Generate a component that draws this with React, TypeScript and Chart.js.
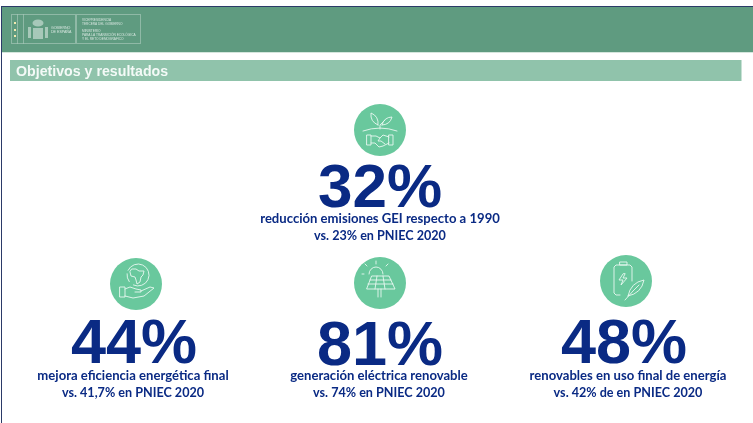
import React, { useEffect, useRef } from "react";
import { Chart, registerables } from "chart.js";

Chart.register(...registerables);

const PAGE_WIDTH = 753;
const PAGE_HEIGHT = 423;

const SLIDE_TITLE = "Objetivos y resultados";
const TARGET_VALUES = [32, 44, 81, 48];
const TARGET_CAPTIONS = [
  "reducción emisiones GEI respecto a 1990",
  "mejora eficiencia energética final",
  "generación eléctrica renovable",
  "renovables en uso final de energía",
];
const PREVIOUS_PLAN = [
  "vs. 23% en PNIEC 2020",
  "vs. 41,7% en PNIEC 2020",
  "vs. 74% en PNIEC 2020",
  "vs. 42% de en PNIEC 2020",
];
const ICON_NAMES = ["handshake", "globe", "solar", "battery"];

// Layout of the four tiles, in page pixels.
const BADGE_X = [380, 136, 380, 626];
const BADGE_Y = [130, 284, 283, 281];
const VALUE_X = [380, 134, 380, 624];
const VALUE_BASELINE = [207, 363, 365, 363];
const CAPTION_X = [380, 133, 379, 628];
const CAPTION_BASELINE = [223, 380, 380, 380];

const NAVY = "#0a2a84";
const BADGE_GREEN = "#69c89d";
const HEADER_GREEN = "#5f9b80";
const TITLE_GREEN = "#90c3ab";
const ICON_LINE = "#e9f7f0";

type Ctx = CanvasRenderingContext2D;

function poly(ctx: Ctx, pts: number[][], close = false) {
  ctx.beginPath();
  pts.forEach(([x, y], i) => (i ? ctx.lineTo(x, y) : ctx.moveTo(x, y)));
  if (close) ctx.closePath();
  ctx.stroke();
}

function leaf(ctx: Ctx, x0: number, y0: number, x1: number, y1: number, bulge: number) {
  const mx = (x0 + x1) / 2;
  const my = (y0 + y1) / 2;
  const nx = -(y1 - y0);
  const ny = x1 - x0;
  ctx.beginPath();
  ctx.moveTo(x0, y0);
  ctx.quadraticCurveTo(mx + nx * bulge, my + ny * bulge, x1, y1);
  ctx.quadraticCurveTo(mx - nx * bulge, my - ny * bulge, x0, y0);
  ctx.stroke();
}

function handshakeIcon(ctx: Ctx) {
  leaf(ctx, -2, -5, -9, -17, 0.38);
  leaf(ctx, 2, -5, 12, -13, 0.38);
  poly(ctx, [[0, -1], [0, -5], [5, -10]]);
  ctx.beginPath();
  ctx.moveTo(-17, 1);
  ctx.quadraticCurveTo(0, -5, 17, 1);
  ctx.stroke();
  ctx.strokeRect(-13, 5, 4, 10);
  ctx.strokeRect(9, 5, 4, 10);
  poly(ctx, [[-9, 6], [-4, 6], [0, 8], [3, 5], [9, 7]]);
  poly(ctx, [[-9, 13], [-5, 13], [-1, 17], [3, 16], [9, 13]]);
  poly(ctx, [[0, 8], [-2, 11], [1, 11], [5, 14]]);
}

function globeIcon(ctx: Ctx) {
  ctx.beginPath();
  ctx.arc(2, -9, 11, -2.7, 2.0);
  ctx.stroke();
  ctx.beginPath();
  ctx.arc(2, -9, 11, 2.5, 3.25);
  ctx.stroke();
  poly(ctx, [[-4, -15], [0, -15], [3, -13], [8, -13], [7, -9], [5, -7], [4, -2], [1, 0], [0, -4], [-1, -7], [-5, -8], [-6, -12]], true);
  ctx.strokeRect(-16, 3, 5, 10);
  poly(ctx, [[-11, 5], [-6, 3], [0, 5], [5, 6], [5, 8], [-1, 8]]);
  poly(ctx, [[5, 7], [14, 3], [18, 4], [8, 12], [-3, 14], [-11, 12]]);
}

function solarIcon(ctx: Ctx) {
  ctx.beginPath();
  ctx.arc(-4, -9, 7, Math.PI, 0);
  ctx.stroke();
  poly(ctx, [[-4, -19], [-4, -22]]);
  poly(ctx, [[-13, -17], [-15, -19]]);
  poly(ctx, [[6, -17], [8, -19]]);
  poly(ctx, [[-16, -9], [-18, -9]]);
  poly(ctx, [[-8, -7], [9, -7], [15, 6], [-13, 6]], true);
  poly(ctx, [[-10, -3], [11, -3]]);
  poly(ctx, [[-12, 1], [13, 1]]);
  poly(ctx, [[-3, -7], [-5, 6]]);
  poly(ctx, [[3, -7], [5, 6]]);
  poly(ctx, [[-2, 6], [-2, 14]]);
  poly(ctx, [[1, 6], [1, 14]]);
}

function batteryIcon(ctx: Ctx) {
  poly(ctx, [[-6, 14], [-10, 14], [-12, 12], [-12, -14], [-10, -16], [4, -16], [6, -14], [6, 0]]);
  ctx.strokeRect(-6, -19, 7, 3);
  poly(ctx, [[-3, -7], [-7, -1], [-3, -1], [-5, 4], [1, -3], [-3, -3], [-1, -7]], true);
  leaf(ctx, 2, 15, 18, -1, 0.34);
  poly(ctx, [[-1, 19], [7, 10], [13, 4]]);
}

const ICON_DRAWERS: Record<string, (ctx: Ctx) => void> = {
  handshake: handshakeIcon,
  globe: globeIcon,
  solar: solarIcon,
  battery: batteryIcon,
};

function drawHeader(ctx: Ctx) {
  ctx.save();
  ctx.fillStyle = "#ffffff";
  ctx.fillRect(0, 0, PAGE_WIDTH, PAGE_HEIGHT);

  ctx.fillStyle = HEADER_GREEN;
  ctx.fillRect(2, 7, PAGE_WIDTH - 2, 45);
  ctx.fillStyle = "#d5e6dd";
  ctx.fillRect(2, 52, PAGE_WIDTH - 2, 1);

  ctx.fillStyle = "#2b3a68";
  ctx.fillRect(1, 6, PAGE_WIDTH - 1, 1);
  ctx.fillRect(1, 6, 1, PAGE_HEIGHT - 6);

  // Government logotype block
  ctx.strokeStyle = "rgba(255,255,255,0.3)";
  ctx.lineWidth = 1;
  ctx.strokeRect(11.5, 14.5, 64, 29);
  ctx.strokeRect(76.5, 14.5, 64, 29);
  ctx.beginPath();
  ctx.moveTo(17.5, 14.5);
  ctx.lineTo(17.5, 43.5);
  ctx.moveTo(23.5, 14.5);
  ctx.lineTo(23.5, 43.5);
  ctx.stroke();

  ctx.fillStyle = "#f3e9b0";
  [22, 29, 35].forEach((y) => ctx.fillRect(14, y, 2, 2));

  // Coat of arms, reduced to a pale crest
  ctx.fillStyle = "rgba(240,246,242,0.5)";
  ctx.fillRect(28, 27, 3, 11);
  ctx.fillRect(45, 27, 3, 11);
  ctx.beginPath();
  ctx.ellipse(38, 23, 5.5, 3.6, 0, 0, Math.PI * 2);
  ctx.fill();
  ctx.fillRect(33, 28, 10, 11);

  ctx.fillStyle = "rgba(255,255,255,0.75)";
  ctx.font = "3.6px 'Liberation Sans'";
  ctx.textAlign = "left";
  ctx.textBaseline = "alphabetic";
  ctx.fillText("GOBIERNO", 51, 29);
  ctx.fillText("DE ESPAÑA", 51, 33);
  ctx.font = "3.2px 'Liberation Sans'";
  ctx.fillText("VICEPRESIDENCIA", 82, 21);
  ctx.fillText("TERCERA DEL GOBIERNO", 82, 25);
  ctx.fillText("MINISTERIO", 82, 32);
  ctx.fillText("PARA LA TRANSICIÓN ECOLÓGICA", 82, 36);
  ctx.fillText("Y EL RETO DEMOGRÁFICO", 82, 40);

  // Section title strip
  ctx.fillStyle = TITLE_GREEN;
  ctx.fillRect(10, 60, 731.5, 21);
  ctx.fillStyle = "#f4faf7";
  ctx.font = "bold 14.2px 'Liberation Sans'";
  ctx.fillText(SLIDE_TITLE, 16, 76);
  ctx.restore();
}

const slidePlugin = {
  id: "slideContent",
  beforeDatasetsDraw(chart: Chart) {
    drawHeader(chart.ctx);
  },
  afterDatasetsDraw(chart: Chart) {
    const ctx = chart.ctx;
    const xs = chart.scales.x;
    const ys = chart.scales.y;
    ctx.save();

    ICON_NAMES.forEach((name, i) => {
      ctx.save();
      ctx.translate(xs.getPixelForValue(BADGE_X[i]), ys.getPixelForValue(BADGE_Y[i]));
      ctx.strokeStyle = ICON_LINE;
      ctx.lineWidth = 0.9;
      ctx.lineJoin = "round";
      ctx.lineCap = "round";
      ICON_DRAWERS[name](ctx);
      ctx.restore();
    });

    ctx.fillStyle = NAVY;
    ctx.textAlign = "center";
    ctx.textBaseline = "alphabetic";
    TARGET_VALUES.forEach((value, i) => {
      ctx.font = `bold ${i === 0 ? 62 : 63}px 'Liberation Sans'`;
      ctx.fillText(`${value}%`, xs.getPixelForValue(VALUE_X[i]), ys.getPixelForValue(VALUE_BASELINE[i]));
      const cx = xs.getPixelForValue(CAPTION_X[i]);
      const base = ys.getPixelForValue(CAPTION_BASELINE[i]);
      ctx.font = "bold 13.1px Lato";
      ctx.fillText(TARGET_CAPTIONS[i], cx, base);
      ctx.font = "bold 12.6px Lato";
      ctx.fillText(PREVIOUS_PLAN[i], cx, base + 17);
    });
    ctx.restore();
  },
};

export default function App() {
  const canvasRef = useRef<HTMLCanvasElement | null>(null);

  useEffect(() => {
    document.body.style.margin = "0";
    const chart = new Chart(canvasRef.current!, {
      type: "scatter",
      data: {
        datasets: [
          {
            label: "Objetivos",
            data: BADGE_X.map((x, i) => ({ x, y: BADGE_Y[i] })),
            backgroundColor: BADGE_GREEN,
            borderWidth: 0,
            pointRadius: 26,
            pointHoverRadius: 26,
          },
        ],
      },
      options: {
        responsive: false,
        animation: false,
        layout: { padding: 0, autoPadding: false },
        plugins: { legend: { display: false }, tooltip: { enabled: false } },
        scales: {
          x: { type: "linear", min: 0, max: PAGE_WIDTH, display: false },
          y: { type: "linear", min: 0, max: PAGE_HEIGHT, reverse: true, display: false },
        },
      },
      plugins: [slidePlugin],
    });
    return () => chart.destroy();
  }, []);

  return (
    <div style={{ width: PAGE_WIDTH, height: PAGE_HEIGHT, overflow: "hidden", background: "#fff" }}>
      <canvas ref={canvasRef} width={PAGE_WIDTH} height={PAGE_HEIGHT} style={{ display: "block" }} />
    </div>
  );
}
